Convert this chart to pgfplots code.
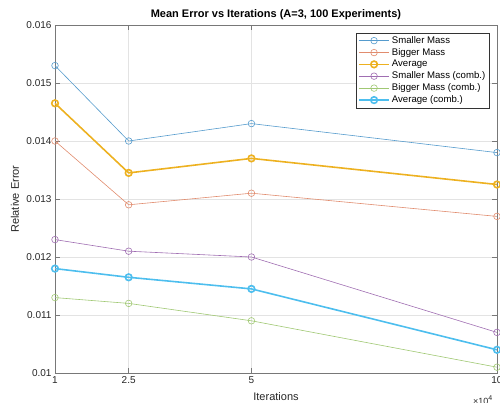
\documentclass[border=0pt]{standalone}
\usepackage{pgfplots}
\pgfplotsset{compat=1.18}
\usepackage{fontspec}
\setmainfont{Liberation Sans}

% series colours
\definecolor{cSmall}{RGB}{85,155,205}
\definecolor{cBig}{RGB}{225,140,110}
\definecolor{cAvg}{RGB}{237,177,32}
\definecolor{cSmallC}{RGB}{160,110,178}
\definecolor{cBigC}{RGB}{160,200,115}
\definecolor{cAvgC}{RGB}{77,190,238}
\definecolor{axcol}{RGB}{120,120,120}
\definecolor{txtcol}{RGB}{38,38,38}

\begin{document}
\begin{tikzpicture}
\begin{axis}[
  scale only axis,
  width=442pt, height=348pt,
  xmin=1, xmax=10, ymin=0.01, ymax=0.016,
  xtick={1,2.5,5,10}, xticklabels={1,2.5,5,10},
  ytick={0.010,0.011,0.012,0.013,0.014,0.015,0.016},
  yticklabels={0.01,0.011,0.012,0.013,0.014,0.015,0.016},
  scaled y ticks=false, scaled x ticks=false,
  /pgf/number format/assume math mode=true,
  tick label style={font=\fontsize{10}{12}\selectfont, text=txtcol},
  tick align=inside,
  major tick length=5pt,
  tick style={axcol, line width=0.5pt},
  axis line style={axcol, line width=0.6pt},
  grid=major,
  major grid style={black!11, line width=0.5pt},
  every axis title shift=0pt,
  title={\bfseries Mean Error vs Iterations (A=3, 100 Experiments)},
  title style={font=\fontsize{11}{13}\selectfont, text=black,
    at={(axis description cs:0.5,1.029)}, anchor=center},
  xlabel={Iterations},
  ylabel={Relative Error},
  xlabel style={font=\fontsize{11}{13}\selectfont, text=txtcol,
    at={(axis description cs:0.5,-0.069)}, anchor=center},
  ylabel style={font=\fontsize{11}{13}\selectfont, text=txtcol,
    at={(axis description cs:-0.0905,0.5)}, anchor=center},
  legend style={
    at={(axis description cs:0.982,0.978)}, anchor=north east,
    font=\fontsize{9.6}{10}\selectfont, text=black,
    draw=black!80, line width=0.5pt,
    inner sep=1.5pt, row sep=-0.5pt,
    legend cell align=left,
    /tikz/every even column/.append style={column sep=0pt},
  },
  legend image code/.code={%
    \draw[mark repeat=2, mark phase=2]
      plot coordinates {(0cm,0cm) (0.53cm,0cm) (1.06cm,0cm)};},
  clip=false,
]
% individual masses
\addplot[cSmall, line width=0.6pt, mark=o, mark size=3.3pt]
  coordinates {(1,0.0153) (2.5,0.0140) (5,0.0143) (10,0.0138)};
\addlegendentry{Smaller Mass}
\addplot[cBig, line width=0.6pt, mark=o, mark size=3.3pt]
  coordinates {(1,0.0140) (2.5,0.0129) (5,0.0131) (10,0.0127)};
\addlegendentry{Bigger Mass}
\addplot[cAvg, line width=1.6pt, mark=o, mark size=3.3pt]
  coordinates {(1,0.01465) (2.5,0.01345) (5,0.0137) (10,0.01325)};
\addlegendentry{Average}
% combined estimates
\addplot[cSmallC, line width=0.6pt, mark=o, mark size=3.3pt]
  coordinates {(1,0.0123) (2.5,0.0121) (5,0.0120) (10,0.0107)};
\addlegendentry{Smaller Mass (comb.)}
\addplot[cBigC, line width=0.6pt, mark=o, mark size=3.3pt]
  coordinates {(1,0.0113) (2.5,0.0112) (5,0.0109) (10,0.0101)};
\addlegendentry{Bigger Mass (comb.)}
\addplot[cAvgC, line width=1.6pt, mark=o, mark size=3.3pt]
  coordinates {(1,0.0118) (2.5,0.01165) (5,0.01145) (10,0.0104)};
\addlegendentry{Average (comb.)}
\end{axis}
% exponent of the x axis
\node[anchor=west, inner sep=0pt, text=txtcol, font=\fontsize{9}{11}\selectfont]
  at ([xshift=-24pt,yshift=-27pt]current axis.south east)
  {×10\raisebox{0.7ex}{\fontsize{7}{8}\selectfont 4}};
% page area
\pgfresetboundingbox
\path[use as bounding box]
  ([xshift=-55pt,yshift=-30pt]current axis.south west)
  rectangle ([xshift=3pt,yshift=25pt]current axis.north east);
\end{tikzpicture}
\end{document}
